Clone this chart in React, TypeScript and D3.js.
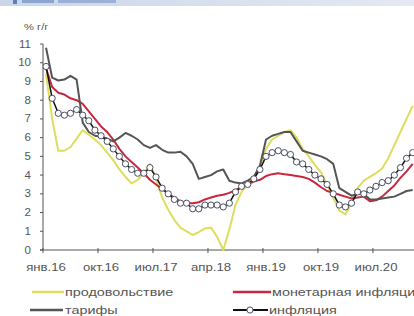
import * as d3 from 'd3';

// months Jan 2016 .. Jan 2021
const monthNames = ['янв', 'фев', 'мар', 'апр', 'май', 'июн', 'июл', 'авг', 'сен', 'окт', 'ноя', 'дек'];
const years = ['16', '17', '18', '19', '20', '21'];
const categories = years.flatMap(y => monthNames.map(m => `${m}.${y}`)).slice(0, 61);
const tickLabels = ['янв.16', 'окт.16', 'июл.17', 'апр.18', 'янв.19', 'окт.19', 'июл.20'];
const yTicks = [0, 1, 2, 3, 4, 5, 6, 7, 8, 9, 10, 11];

const food = [
  9.4, 7.0, 5.3, 5.3, 5.5, 5.95, 6.4, 6.15, 5.9, 5.6, 5.2, 4.8,
  4.3, 3.9, 3.55, 3.75, 4.1, 4.6, 3.8, 2.8, 2.15, 1.6, 1.2, 1.0,
  0.8, 0.95, 1.15, 1.2, 0.7, 0.0, 1.1, 2.4, 3.1, 3.5, 3.9, 4.5,
  5.4, 5.9, 6.1, 6.3, 6.4, 6.0, 5.4, 5.0, 4.55, 4.15, 3.5, 2.8,
  2.1, 1.9, 2.5, 3.3, 3.7, 3.9, 4.1, 4.35, 4.9, 5.6, 6.3, 7.0,
  7.7,
];
const monetary = [
  9.7, 8.7, 8.4, 8.3, 8.1, 8.0, 7.8, 7.4, 7.0, 6.6, 6.3, 5.9,
  5.4, 5.0, 4.7, 4.4, 4.1, 3.75, 3.5, 3.25, 3.0, 2.8, 2.6, 2.5,
  2.5, 2.55, 2.7, 2.8, 2.9, 2.95, 3.05, 3.2, 3.35, 3.5, 3.65, 3.75,
  3.95, 4.05, 4.1, 4.05, 4.0, 3.95, 3.9, 3.8, 3.6, 3.35, 3.15, 3.05,
  2.95, 2.85, 2.75, 2.8, 2.85, 2.6, 2.65, 2.85, 3.15, 3.45, 3.85, 4.2,
  4.6,
];
const tariffs = [
  10.8, 9.2, 9.05, 9.1, 9.3, 9.1, 6.8, 6.3, 6.1, 6.05, 5.95, 5.8,
  6.0, 6.25, 6.1, 5.9, 5.6, 5.45, 5.6, 5.35, 5.2, 5.2, 5.25, 5.0,
  4.6, 3.8, 3.9, 4.0, 4.2, 4.3, 3.7, 3.6, 3.55, 3.7, 3.9, 4.5,
  5.9, 6.1, 6.2, 6.3, 6.3, 5.8, 5.3, 5.2, 5.1, 5.0, 4.85, 4.6,
  3.3, 3.1, 2.9, 3.0, 3.0, 2.7, 2.7, 2.75, 2.8, 2.85, 3.0, 3.15,
  3.2,
];
const inflation = [
  9.8, 8.1, 7.3, 7.2, 7.3, 7.5, 7.2, 6.9, 6.4, 6.1, 5.8, 5.4,
  5.0, 4.6, 4.3, 4.1, 4.1, 4.4, 3.9, 3.3, 3.0, 2.7, 2.5, 2.5,
  2.2, 2.2, 2.4, 2.4, 2.4, 2.3, 2.5, 3.1, 3.4, 3.5, 3.8, 4.3,
  5.0, 5.2, 5.3, 5.2, 5.1, 4.7, 4.6, 4.3, 4.0, 3.8, 3.5, 3.0,
  2.4, 2.3, 2.5, 3.1, 3.0, 3.2, 3.4, 3.6, 3.7, 4.0, 4.4, 4.9,
  5.2,
];

const FONT = '"Liberation Sans", Arial, sans-serif';
const SX = 1.32; // the reference text is stretched horizontally

export default function App() {
  const x = d3.scaleBand<string>()
    .domain(categories)
    .range([43, 43 + categories.length * 6.11])
    .padding(0);
  const y = d3.scaleLinear().domain([0, 11]).range([250, 44]);
  const cx = (i: number) => (x(categories[i]) ?? 0) + x.bandwidth() / 2;

  const line = d3.line<number>()
    .x((_, i) => cx(i))
    .y(d => y(d));

  const stretched = (tx: number, ty: number, s = SX) => `translate(${tx},${ty}) scale(${s},1)`;

  return (
    <div style={{ position: 'fixed', left: 0, top: 0 }}>
      <svg width={414} height={316} style={{ display: 'block', background: '#fff' }}>
        <defs>
          <linearGradient id="hdr" x1="0" x2="1">
            <stop offset="0%" stopColor="#c9d6ea" />
            <stop offset="100%" stopColor="#e4e9f2" />
          </linearGradient>
        </defs>
        {/* cropped header band */}
        <rect x={0} y={0} width={414} height={6} fill="url(#hdr)" />
        <rect x={13} y={0} width={4} height={4} fill="#5d7fb8" />
        <rect x={22} y={0} width={32} height={3} fill="#8ea6cf" />
        <rect x={58} y={0} width={58} height={3} fill="#9ab0d4" />

        {/* y label */}
        <text transform={stretched(24, 30)} fontFamily={FONT} fontSize={8.5} fill="#555">% г/г</text>

        {/* y axis */}
        <line x1={43} x2={43} y1={y(11)} y2={y(0)} stroke="#555" strokeWidth={1} />
        {yTicks.map(t => (
          <g key={t}>
            <line x1={40} x2={43} y1={y(t)} y2={y(t)} stroke="#555" />
            <text
              transform={stretched(31, y(t) + 3.5, 1.15)}
              textAnchor="end"
              fontFamily={FONT}
              fontSize={10}
              fill="#555"
            >{t}</text>
          </g>
        ))}

        {/* x axis */}
        <line x1={40} x2={414} y1={y(0)} y2={y(0)} stroke="#555" strokeWidth={1} />
        {tickLabels.map(lbl => {
          const x0 = x(lbl) ?? 0;
          return (
            <g key={lbl}>
              <line x1={x0} x2={x0} y1={y(0) - 2} y2={y(0) + 3} stroke="#555" />
              <text
                transform={stretched(x0 + x.bandwidth() / 2, 271)}
                textAnchor="middle"
                fontFamily={FONT}
                fontSize={10}
                fill="#555"
              >{lbl}</text>
            </g>
          );
        })}

        {/* series */}
        <path d={line(food) ?? ''} fill="none" stroke="#dedd5c" strokeWidth={2} strokeLinejoin="round" />
        <path d={line(monetary) ?? ''} fill="none" stroke="#c8283f" strokeWidth={2} strokeLinejoin="round" />
        <path d={line(tariffs) ?? ''} fill="none" stroke="#555555" strokeWidth={2} strokeLinejoin="round" />
        <path d={line(inflation) ?? ''} fill="none" stroke="#111" strokeWidth={1.5} strokeLinejoin="round" />
        {inflation.map((v, i) => (
          <circle key={i} cx={cx(i)} cy={y(v)} r={3.1} fill="#fff" stroke="#4a4f63" strokeWidth={1} />
        ))}

        {/* legend */}
        <g fontFamily={FONT} fontSize={10} fill="#555">
          <line x1={32} x2={64} y1={292} y2={292} stroke="#dedd5c" strokeWidth={2.5} />
          <text transform={stretched(65, 295.5, 1.44)}>продовольствие</text>
          <line x1={233} x2={271} y1={292} y2={292} stroke="#c8283f" strokeWidth={2.5} />
          <text transform={stretched(272, 295.5, 1.44)}>монетарная инфляция</text>
          <line x1={30} x2={63} y1={310} y2={310} stroke="#555" strokeWidth={2.5} />
          <text transform={stretched(65, 313.5, 1.44)}>тарифы</text>
          <line x1={233} x2={268} y1={310} y2={310} stroke="#111" strokeWidth={2} />
          <circle cx={250} cy={310} r={3.1} fill="#fff" stroke="#4a4f63" />
          <text transform={stretched(269, 313.5, 1.44)}>инфляция</text>
        </g>
      </svg>
    </div>
  );
}
